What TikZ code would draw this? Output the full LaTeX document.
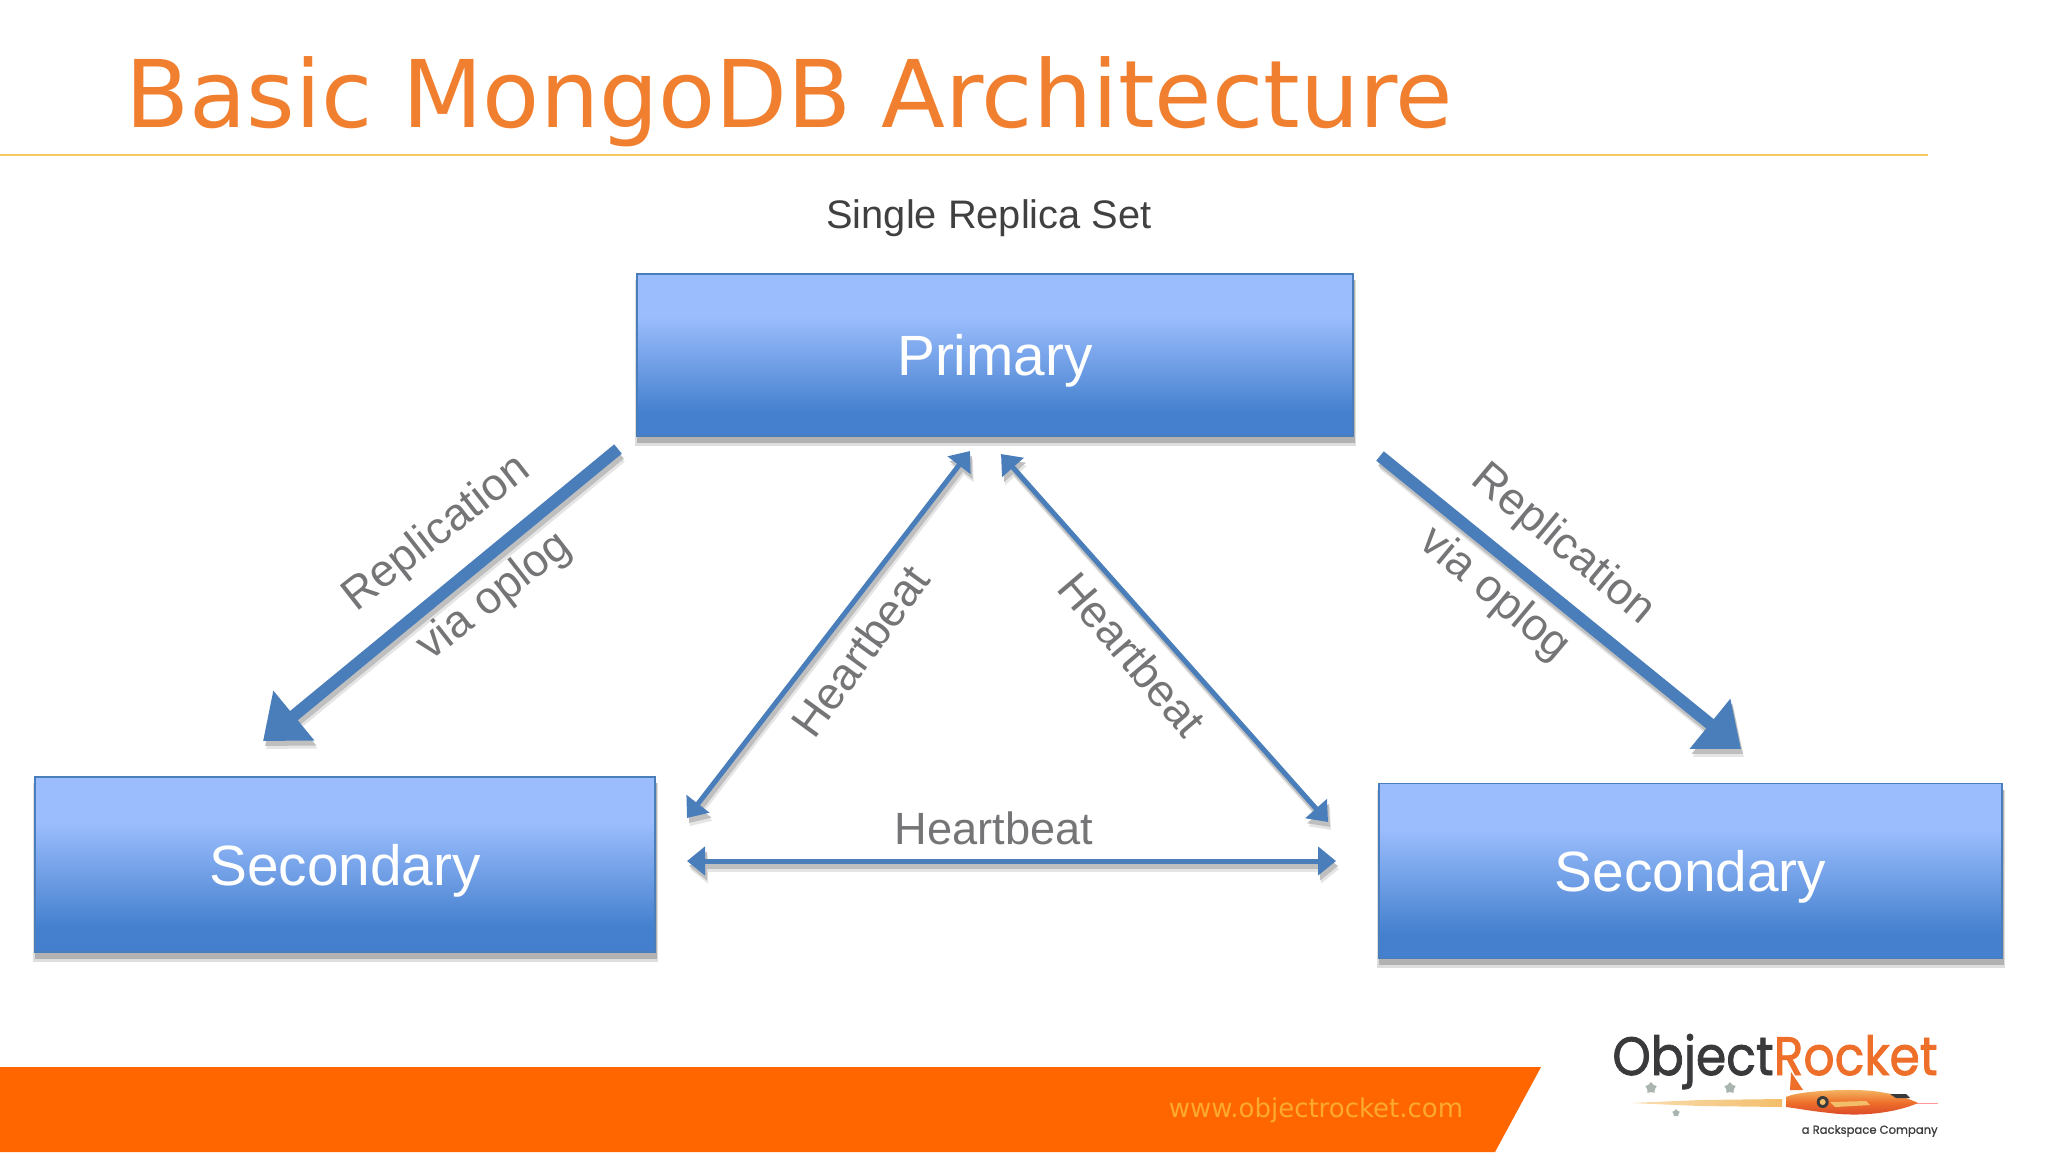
\documentclass[tikz,border=0pt]{standalone}
\usepackage{fontspec}
\usetikzlibrary{arrows.meta,shapes.geometric}
\setmainfont{Liberation Sans}
\newfontfamily\dvfont{DejaVu Sans}
\newfontfamily\logofont{Poppins}[FakeBold=1.6]
\newfontfamily\logosubfont{Poppins}[FakeBold=0.8]
\definecolor{titleorange}{HTML}{F08030}
\definecolor{rulecol}{HTML}{F8C860}
\definecolor{barorange}{HTML}{FF6600}
\definecolor{urlcol}{HTML}{FBA92F}
\definecolor{arrowblue}{HTML}{4A7EBB}
\definecolor{boxtop}{HTML}{9BBDFD}
\definecolor{boxbot}{HTML}{4480CE}
\definecolor{labelgray}{HTML}{757577}
\definecolor{logodark}{HTML}{3A3A3C}
\definecolor{logoorange}{HTML}{EE6F2A}
\definecolor{logored}{HTML}{D8432A}
\definecolor{flame}{HTML}{F3BE6A}
\definecolor{stargray}{HTML}{A9B5AE}
\pgfdeclareverticalshading{boxgrad}{100bp}{color(0bp)=(boxbot); color(32bp)=(boxbot); color(62bp)=(boxtop); color(100bp)=(boxtop)}
\tikzset{
  x=0.5pt,y=-0.5pt,
  boxn/.style={draw=arrowblue,line width=0.6pt,shading=boxgrad,text=white,font=\fontsize{28.4}{30}\selectfont,inner sep=0pt,text depth=0pt},
  softshadow/.style={fill=black!13,draw=none},
  boxshadow/.style={fill=black!30,draw=none},
  lbl/.style={text=labelgray,font=\fontsize{22.6}{24}\selectfont,inner sep=0pt},
  bigtip/.style={-{Triangle[length=20pt,width=31pt]},line width=6pt},
  hbtip/.style={{Triangle[length=9pt,width=14pt]}-{Triangle[length=9pt,width=14pt]},line width=2.5pt},
  bigarrow/.style={bigtip,draw=arrowblue},
  hbarrow/.style={hbtip,draw=arrowblue},
  softoff/.style={draw=black!10,transform canvas={yshift=-4pt,xshift=1.5pt}},
  nearoff/.style={draw=black!25,transform canvas={yshift=-2.5pt,xshift=1pt}},
  starmark/.style={fill=stargray,draw=none,star,star points=5,inner sep=0pt,minimum size=6pt}
}
\begin{document}
\begin{tikzpicture}
\useasboundingbox (0,0) rectangle (2048,1152);
% title
\node[anchor=base west,inner sep=0pt,text=titleorange,font=\dvfont\fontsize{46.7}{50}\selectfont] (title) at (125,127) {Basic MongoDB Architecture};
\draw[rulecol,line width=1pt] (0,154.5) -- (1928,154.5);
\node[inner sep=0pt,text=black!75,font=\fontsize{19.9}{22}\selectfont] (subtitle) at (989,218.5) {Single Replica Set};
% box shadows
\fill[softshadow] (635,280) rectangle (1356,446);
\fill[boxshadow] (637,280) rectangle (1355,443);
\fill[softshadow] (33,783) rectangle (658,962);
\fill[boxshadow] (35,783) rectangle (657,959);
\fill[softshadow] (1377,790) rectangle (2005,968);
\fill[boxshadow] (1379,790) rectangle (2004,965);
% boxes
\node[boxn,minimum width=358pt,minimum height=81pt] (primary) at (995,355) {Primary};
\node[boxn,minimum width=310pt,minimum height=87.5pt] (secleft) at (345,864.5) {Secondary};
\node[boxn,minimum width=311.5pt,minimum height=87.5pt] (secright) at (1690.5,871) {Secondary};
% connector ends
\coordinate (repLa) at (618,449);
\coordinate (repLb) at (263,741);
\coordinate (repRa) at (1380,456);
\coordinate (repRb) at (1741,749);
\coordinate (hbLa) at (970,451);
\coordinate (hbLb) at (687,818);
\coordinate (hbRa) at (1001,454);
\coordinate (hbRb) at (1328,822);
\coordinate (hbHa) at (687,861);
\coordinate (hbHb) at (1336,861);
% connector shadows
\draw[bigtip,softoff] (repLa) -- (repLb);
\draw[bigtip,softoff] (repRa) -- (repRb);
\draw[hbtip,softoff] (hbLa) -- (hbLb);
\draw[hbtip,softoff] (hbRa) -- (hbRb);
\draw[hbtip,softoff] (hbHa) -- (hbHb);
\draw[bigtip,nearoff] (repLa) -- (repLb);
\draw[bigtip,nearoff] (repRa) -- (repRb);
\draw[hbtip,nearoff] (hbLa) -- (hbLb);
\draw[hbtip,nearoff] (hbRa) -- (hbRb);
\draw[hbtip,nearoff] (hbHa) -- (hbHb);
% connectors
\draw[bigarrow] (repLa) -- (repLb);
\draw[bigarrow] (repRa) -- (repRb);
\draw[hbarrow] (hbLa) -- (hbLb);
\draw[hbarrow] (hbRa) -- (hbRb);
\draw[hbarrow] (hbHa) -- (hbHb);
% labels
\node[lbl,rotate=38] (l1) at (437,534) {Replication};
\node[lbl,rotate=38] (l2) at (495,597) {via oplog};
\node[lbl,rotate=-40] (l3) at (1563,545) {Replication};
\node[lbl,rotate=-40] (l4) at (1494,595) {via oplog};
\node[lbl,rotate=54] (l5) at (860,651) {Heartbeat};
\node[lbl,rotate=-49.5] (l6) at (1132.5,654) {Heartbeat};
\node[lbl] (l7) at (994,828) {Heartbeat};
% bottom bar
\fill[barorange] (0,1067) -- (1541,1067) -- (1495,1152) -- (0,1152) -- cycle;
\node[inner sep=0pt,text=urlcol,font=\dvfont\fontsize{13}{15}\selectfont] (url) at (1316,1110) {www.objectrocket.com};
% logo
\node[anchor=base west,inner sep=0pt,xscale=.905,font=\logofont\fontsize{27}{30}\selectfont] (logotext) at (1612,1075) {\textcolor{logodark}{Object}\textcolor{logoorange}{Rocket}};
\node[anchor=east,inner sep=0pt,text=logodark,font=\logosubfont\fontsize{5.8}{7}\selectfont] (logosub) at (1938,1131) {a Rackspace Company};
% rocket
\shade[left color=flame!50,right color=flame] (1630,1103) -- (1700,1100) -- (1782,1099) -- (1782,1107) -- (1700,1106) -- cycle;
\draw[red!40,line width=0.5pt] (1915,1103) -- (1938,1103);
\fill[logoorange] (1790,1090) -- (1791,1072) -- (1803,1090) -- cycle;
\shade[top color=flame,bottom color=logored,middle color=logoorange] (1786,1097) .. controls (1800,1090) and (1860,1088) .. (1880,1092) .. controls (1900,1095) and (1912,1100) .. (1918,1103) .. controls (1895,1113) and (1860,1117) .. (1830,1113) .. controls (1810,1111) and (1795,1108) .. (1786,1107) -- cycle;
\fill[logodark] (1890,1094) -- (1906,1094) -- (1910,1098) -- (1896,1098) -- cycle;
\fill[flame] (1830,1102) -- (1866,1101) -- (1870,1105) -- (1835,1107) -- cycle;
\fill[logodark] (1822.7,1102) circle (3pt);
\fill[flame] (1822.7,1102) circle (1.5pt);
\node[starmark] (s1) at (1651,1088) {};
\node[starmark] (s2) at (1730,1088) {};
\node[starmark,minimum size=4pt] (s3) at (1676,1113) {};
\end{tikzpicture}
\end{document}
